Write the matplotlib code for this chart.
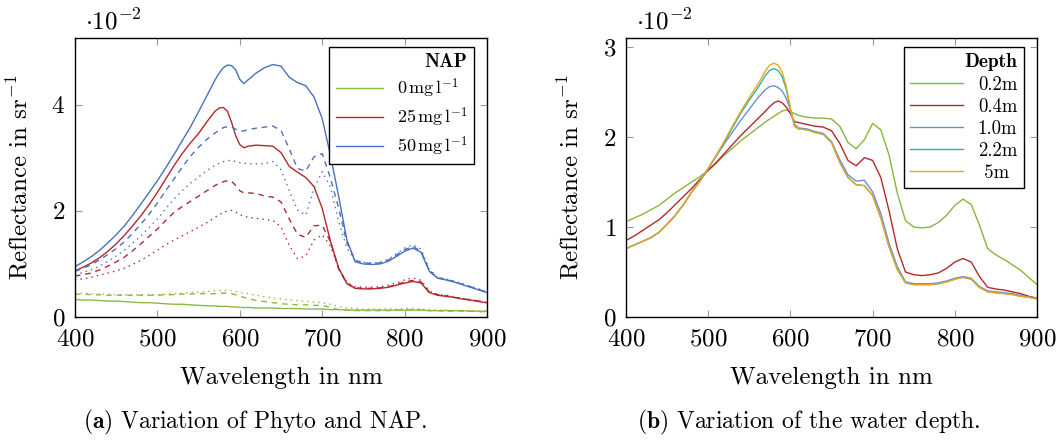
import matplotlib
matplotlib.use("Agg")
import matplotlib.pyplot as plt

plt.rcParams['font.family'] = ['cmr10', 'DejaVu Serif']
plt.rcParams['mathtext.fontset'] = 'cm'
plt.rcParams['axes.formatter.use_mathtext'] = True
plt.rcParams['axes.unicode_minus'] = False

# wavelength grid in nm (reflectance values in 1e-2 sr^-1)
wl = [400, 410, 420, 430, 440, 450, 460, 470, 480, 490, 500, 510, 520, 530, 540, 550, 560, 570,
      575, 580, 585, 590, 595, 600, 605,
      610, 620, 630, 640, 650, 660, 670, 680, 690, 700, 710, 720, 730, 740, 750, 760, 770, 780,
      790, 800, 810, 820, 830, 840, 850, 860, 870, 880, 890, 900]

# (a) solid / dashed / dotted curves for each NAP level
nap0_solid = [0.33, 0.32, 0.32, 0.31, 0.30, 0.30, 0.29, 0.28, 0.27, 0.27, 0.26, 0.25, 0.24, 0.24, 0.23, 0.22, 0.21, 0.21,
              0.20, 0.20, 0.20, 0.19, 0.19, 0.18, 0.18,
              0.18, 0.17, 0.17, 0.17, 0.16, 0.16, 0.16, 0.15, 0.15, 0.15, 0.14, 0.14, 0.13, 0.13, 0.13, 0.13, 0.13, 0.13,
              0.13, 0.13, 0.13, 0.13, 0.12, 0.12, 0.12, 0.12, 0.12, 0.11, 0.11, 0.11]
nap0_dashed = [0.43, 0.43, 0.42, 0.42, 0.41, 0.41, 0.41, 0.41, 0.41, 0.41, 0.41, 0.42, 0.42, 0.43, 0.43, 0.44, 0.44, 0.44,
               0.45, 0.45, 0.45, 0.44, 0.42, 0.39, 0.37,
               0.35, 0.31, 0.29, 0.27, 0.25, 0.24, 0.23, 0.23, 0.22, 0.22, 0.18, 0.14, 0.13, 0.12, 0.12, 0.12, 0.12, 0.12,
               0.13, 0.13, 0.14, 0.13, 0.12, 0.12, 0.11, 0.11, 0.11, 0.11, 0.10, 0.10]
nap0_dotted = [0.45, 0.45, 0.44, 0.43, 0.43, 0.42, 0.42, 0.42, 0.42, 0.42, 0.42, 0.43, 0.44, 0.45, 0.46, 0.47, 0.48, 0.49,
               0.50, 0.50, 0.50, 0.50, 0.48, 0.46, 0.45,
               0.44, 0.41, 0.38, 0.36, 0.34, 0.32, 0.31, 0.30, 0.28, 0.27, 0.24, 0.20, 0.17, 0.16, 0.15, 0.15, 0.15, 0.15,
               0.15, 0.16, 0.16, 0.15, 0.14, 0.13, 0.13, 0.12, 0.12, 0.12, 0.11, 0.11]

nap25_solid = [0.87, 0.94, 1.02, 1.12, 1.24, 1.38, 1.54, 1.72, 1.91, 2.12, 2.35, 2.60, 2.85, 3.08, 3.28, 3.46, 3.68, 3.88,
               3.94, 3.95, 3.88, 3.67, 3.42, 3.25, 3.19,
               3.22, 3.24, 3.23, 3.22, 3.10, 2.84, 2.73, 2.63, 2.46, 2.05, 1.43, 0.92, 0.63, 0.54, 0.53, 0.53, 0.54, 0.56,
               0.60, 0.64, 0.67, 0.64, 0.46, 0.41, 0.39, 0.37, 0.34, 0.32, 0.29, 0.27]
nap25_dashed = [0.77, 0.80, 0.83, 0.89, 0.96, 1.04, 1.13, 1.25, 1.38, 1.52, 1.66, 1.82, 1.97, 2.08, 2.18, 2.28, 2.38, 2.48,
                2.52, 2.55, 2.57, 2.56, 2.48, 2.38, 2.34,
                2.34, 2.33, 2.28, 2.26, 2.17, 1.85, 1.56, 1.50, 1.72, 1.73, 1.42, 0.90, 0.63, 0.55, 0.54, 0.54, 0.55, 0.57,
                0.61, 0.66, 0.69, 0.66, 0.47, 0.42, 0.40, 0.37, 0.35, 0.32, 0.30, 0.27]
nap25_dotted = [0.70, 0.72, 0.75, 0.79, 0.83, 0.87, 0.92, 0.99, 1.07, 1.16, 1.26, 1.36, 1.45, 1.53, 1.61, 1.69, 1.78, 1.88,
                1.93, 1.97, 2.00, 2.01, 1.98, 1.93, 1.90,
                1.88, 1.86, 1.84, 1.82, 1.70, 1.35, 1.10, 1.15, 1.45, 1.55, 1.34, 0.93, 0.65, 0.57, 0.56, 0.56, 0.57, 0.60,
                0.64, 0.70, 0.74, 0.69, 0.49, 0.43, 0.41, 0.38, 0.35, 0.33, 0.30, 0.27]

nap50_solid = [0.95, 1.04, 1.14, 1.26, 1.40, 1.55, 1.72, 1.92, 2.13, 2.35, 2.57, 2.81, 3.06, 3.32, 3.58, 3.87, 4.17, 4.47,
               4.60, 4.70, 4.75, 4.74, 4.66, 4.48, 4.40,
               4.47, 4.60, 4.70, 4.76, 4.73, 4.52, 4.42, 4.36, 4.15, 3.74, 3.05, 2.27, 1.45, 1.04, 1.00, 0.99, 1.00, 1.05,
               1.14, 1.24, 1.30, 1.22, 0.86, 0.73, 0.70, 0.66, 0.61, 0.56, 0.51, 0.46]
nap50_dashed = [0.86, 0.92, 0.99, 1.08, 1.18, 1.29, 1.42, 1.58, 1.75, 1.94, 2.15, 2.38, 2.60, 2.82, 3.03, 3.20, 3.35, 3.47,
                3.52, 3.57, 3.59, 3.58, 3.54, 3.50, 3.51,
                3.53, 3.56, 3.58, 3.60, 3.52, 3.17, 2.80, 2.75, 3.02, 3.08, 2.62, 2.05, 1.40, 1.07, 1.02, 1.01, 1.02, 1.07,
                1.17, 1.27, 1.33, 1.24, 0.88, 0.74, 0.71, 0.67, 0.62, 0.57, 0.52, 0.47]
nap50_dotted = [0.80, 0.84, 0.89, 0.96, 1.05, 1.15, 1.26, 1.39, 1.53, 1.69, 1.85, 2.04, 2.22, 2.38, 2.52, 2.64, 2.76, 2.86,
                2.90, 2.93, 2.95, 2.95, 2.93, 2.91, 2.90,
                2.89, 2.89, 2.89, 2.93, 2.78, 2.38, 2.02, 1.92, 2.42, 2.74, 2.45, 1.80, 1.30, 1.06, 1.03, 1.02, 1.03, 1.09,
                1.19, 1.30, 1.36, 1.28, 0.90, 0.75, 0.72, 0.68, 0.63, 0.58, 0.53, 0.47]

nap_labels = [r"$0\,\mathrm{mg}\,\mathrm{l}^{-1}$", r"$25\,\mathrm{mg}\,\mathrm{l}^{-1}$",
              r"$50\,\mathrm{mg}\,\mathrm{l}^{-1}$"]

# (b) water depth
d02 = [1.06, 1.10, 1.14, 1.19, 1.24, 1.31, 1.38, 1.44, 1.50, 1.56, 1.63, 1.71, 1.80, 1.88, 1.96, 2.03, 2.10, 2.17,
       2.20, 2.23, 2.26, 2.29, 2.30, 2.28, 2.26,
       2.24, 2.22, 2.21, 2.21, 2.20, 2.12, 1.94, 1.87, 1.97, 2.15, 2.08, 1.80, 1.38, 1.07, 1.00, 0.99, 1.00, 1.05,
       1.13, 1.24, 1.31, 1.25, 1.02, 0.76, 0.69, 0.64, 0.58, 0.52, 0.44, 0.36]
d04 = [0.85, 0.90, 0.96, 1.02, 1.08, 1.16, 1.25, 1.34, 1.43, 1.53, 1.63, 1.72, 1.82, 1.92, 2.02, 2.11, 2.20, 2.29,
       2.34, 2.38, 2.40, 2.38, 2.33, 2.26, 2.17,
       2.16, 2.14, 2.12, 2.11, 2.07, 1.93, 1.74, 1.68, 1.77, 1.74, 1.55, 1.18, 0.76, 0.50, 0.47, 0.46, 0.47, 0.49,
       0.54, 0.61, 0.65, 0.61, 0.45, 0.33, 0.31, 0.30, 0.28, 0.26, 0.23, 0.21]
d10 = [0.76, 0.80, 0.84, 0.88, 0.94, 1.03, 1.13, 1.25, 1.39, 1.51, 1.65, 1.79, 1.93, 2.06, 2.19, 2.31, 2.43, 2.53,
       2.56, 2.57, 2.55, 2.51, 2.43, 2.30, 2.14,
       2.10, 2.09, 2.06, 2.04, 1.95, 1.75, 1.58, 1.51, 1.52, 1.39, 1.15, 0.82, 0.56, 0.39, 0.37, 0.37, 0.37, 0.38,
       0.40, 0.43, 0.45, 0.43, 0.34, 0.29, 0.28, 0.27, 0.26, 0.24, 0.22, 0.21]
d22 = [0.76, 0.80, 0.84, 0.88, 0.94, 1.03, 1.13, 1.25, 1.39, 1.51, 1.65, 1.80, 1.95, 2.11, 2.27, 2.41, 2.54, 2.69,
       2.74, 2.76, 2.74, 2.67, 2.53, 2.31, 2.12,
       2.09, 2.08, 2.05, 2.03, 1.94, 1.72, 1.55, 1.47, 1.46, 1.35, 1.10, 0.78, 0.53, 0.38, 0.36, 0.36, 0.36, 0.37,
       0.39, 0.42, 0.44, 0.42, 0.33, 0.28, 0.27, 0.26, 0.25, 0.23, 0.22, 0.20]
d50 = [0.76, 0.80, 0.84, 0.88, 0.94, 1.03, 1.13, 1.25, 1.39, 1.51, 1.65, 1.80, 1.96, 2.13, 2.29, 2.44, 2.58, 2.74,
       2.80, 2.82, 2.80, 2.72, 2.56, 2.32, 2.12,
       2.09, 2.08, 2.05, 2.03, 1.94, 1.72, 1.55, 1.47, 1.46, 1.35, 1.10, 0.78, 0.53, 0.38, 0.36, 0.36, 0.36, 0.37,
       0.39, 0.42, 0.44, 0.42, 0.33, 0.28, 0.27, 0.26, 0.25, 0.23, 0.22, 0.20]
depth_labels = ["0.2m", "0.4m", "1.0m", "2.2m", " 5m"]

GREEN = '#8bbb45'
RED = '#b3282d'
BLUE = '#4a70bd'
DASH = (0, (4, 3.5))
DOT = (0, (1, 3))
FS = 18

fig = plt.figure(figsize=(10.63, 4.43), dpi=100)
ax1 = fig.add_axes([75 / 1063, 126 / 443, 412 / 1063, 279 / 443])
ax2 = fig.add_axes([626 / 1063, 126 / 443, 411 / 1063, 279 / 443])


def style(ax, ymax, yticks):
    ax.set_xlim(400, 900)
    ax.set_ylim(0, ymax)
    ax.set_xticks([400, 500, 600, 700, 800, 900])
    ax.set_yticks(yticks)
    ax.tick_params(direction='in', length=5, width=0.8, color='#999999',
                   top=True, right=True, labelsize=FS)
    ax.tick_params(axis='x', pad=8)
    ax.tick_params(axis='y', pad=7)
    for sp in ax.spines.values():
        sp.set_linewidth(1.0)
    ax.set_xlabel("Wavelength in nm", fontsize=FS)
    ax.set_ylabel(r"Reflectance in sr$^{-1}$", fontsize=FS)
    ax.xaxis.set_label_coords(0.5, -0.18)
    ax.yaxis.set_label_coords(-0.104, 0.5)
    ax.text(0.025, 1.03, r"$\cdot 10^{-2}$", transform=ax.transAxes,
            fontsize=FS, va='baseline', ha='left')


lw = 1.0
series = [(nap0_solid, nap0_dashed, nap0_dotted, GREEN),
          (nap25_solid, nap25_dashed, nap25_dotted, RED),
          (nap50_solid, nap50_dashed, nap50_dotted, BLUE)]
handles = []
for (s, d, o, c), lab in zip(series, nap_labels):
    h, = ax1.plot(wl, s, color=c, lw=lw, label=lab)
    ax1.plot(wl, d, color=c, lw=lw, linestyle=DASH)
    ax1.plot(wl, o, color=c, lw=lw, linestyle=DOT)
    handles.append(h)
style(ax1, 5.26, [0, 2, 4])
leg1 = ax1.legend(handles=handles, loc='upper right', bbox_to_anchor=(0.968, 0.968),
                  borderaxespad=0, fancybox=False, framealpha=1, edgecolor='black',
                  fontsize=13, title="NAP", title_fontproperties={'family': 'cmb10', 'size': 14},
                  handlelength=2.6, alignment='right', labelspacing=0.3, borderpad=0.35)
leg1.get_frame().set_linewidth(1.0)

depth_series = [d02, d04, d10, d22, d50]
depth_colors = ['#86b83a', '#b22a2a', '#6b8ed6', '#2fb5a2', '#f2a31b']
for y, c, lab in zip(depth_series, depth_colors, depth_labels):
    ax2.plot(wl, y, color=c, lw=lw, label=lab)
style(ax2, 3.1, [0, 1, 2, 3])
leg2 = ax2.legend(loc='upper right', bbox_to_anchor=(0.968, 0.968),
                  borderaxespad=0, fancybox=False, framealpha=1, edgecolor='black',
                  fontsize=13.5, title="Depth", title_fontproperties={'family': 'cmb10', 'size': 14},
                  handlelength=2.8, alignment='right', labelspacing=0.22, borderpad=0.35)
leg2.get_frame().set_linewidth(1.0)

# sub-figure captions
fig.text(255 / 1063, 0.033, r"$\mathbf{(a)}$ Variation of Phyto and NAP.", fontsize=17,
         ha='center', va='baseline')
fig.text(809 / 1063, 0.033, r"$\mathbf{(b)}$ Variation of the water depth.", fontsize=17,
         ha='center', va='baseline')

fig.savefig("out.png", dpi=100)
